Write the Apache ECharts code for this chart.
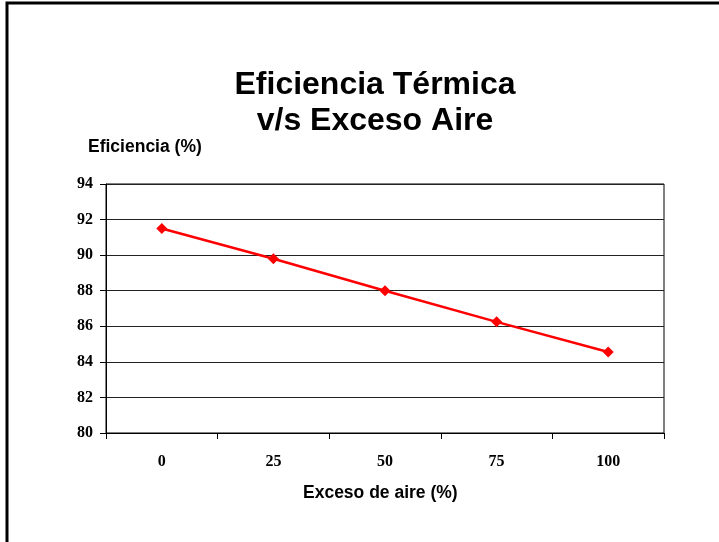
<!DOCTYPE html>
<html><head><meta charset="utf-8">
<script src="https://cdn.jsdelivr.net/npm/echarts@6/dist/echarts.min.js"></script>
<style>html,body{margin:0;padding:0;background:#fff}#c{width:719px;height:542px}</style>
</head><body><div id="c"></div>
<script>
var categories = ['0', '25', '50', '75', '100'];
var efficiency = [91.5, 89.8, 88.0, 86.25, 84.55];
var yTicks = [80, 82, 84, 86, 88, 90, 92, 94];

var chart = echarts.init(document.getElementById('c'), null, {renderer: 'canvas'});
chart.setOption({
  animation: false,
  backgroundColor: '#fff',
  title: {
    text: 'Eficiencia Térmica\nv/s Exceso Aire',
    left: 370, top: 62, textAlign: 'center',
    textStyle: {fontFamily: 'Liberation Sans, Arial', fontWeight: 'bold', fontSize: 32, lineHeight: 36, color: '#000'}
  },
  graphic: [
    {type: 'rect', shape: {x: 7, y: 3, width: 760, height: 600}, style: {fill: 'none', stroke: '#000', lineWidth: 3}, silent: true},
    {type: 'text', left: 88, top: 138, style: {text: 'Eficiencia (%)', font: 'bold 17.5px "Liberation Sans", Arial', fill: '#000'}},
    {type: 'text', left: 303, top: 484, style: {text: 'Exceso de aire (%)', font: 'bold 17.5px "Liberation Sans", Arial', fill: '#000'}}
  ],
  grid: {left: 106, top: 184, right: 55, bottom: 109, show: true, borderColor: '#000', borderWidth: 1, backgroundColor: '#fff'},
  xAxis: {
    type: 'category', data: categories, boundaryGap: true,
    axisLine: {lineStyle: {color: '#000', width: 1}},
    axisTick: {show: true, length: 6, lineStyle: {color: '#000'}, alignWithLabel: false},
    axisLabel: {margin: 21, fontFamily: 'Liberation Serif, Times New Roman', fontWeight: 'bold', fontSize: 16, color: '#000'},
    splitLine: {show: false}
  },
  yAxis: {
    type: 'value', min: 80, max: 94, interval: 2,
    axisLine: {show: true, lineStyle: {color: '#000', width: 1}},
    axisTick: {show: true, length: 6, lineStyle: {color: '#000'}},
    axisLabel: {margin: 13, fontFamily: 'Liberation Serif, Times New Roman', fontWeight: 'bold', fontSize: 16, color: '#000',
      formatter: function(v){ return yTicks.indexOf(v) >= 0 ? String(v) : ''; }},
    splitLine: {show: true, lineStyle: {color: '#222', width: 1}}
  },
  series: [{
    type: 'line', data: efficiency,
    symbol: 'diamond', symbolSize: 11,
    lineStyle: {color: '#ff0000', width: 2.5},
    itemStyle: {color: '#ff0000'}
  }]
});
</script></body></html>
